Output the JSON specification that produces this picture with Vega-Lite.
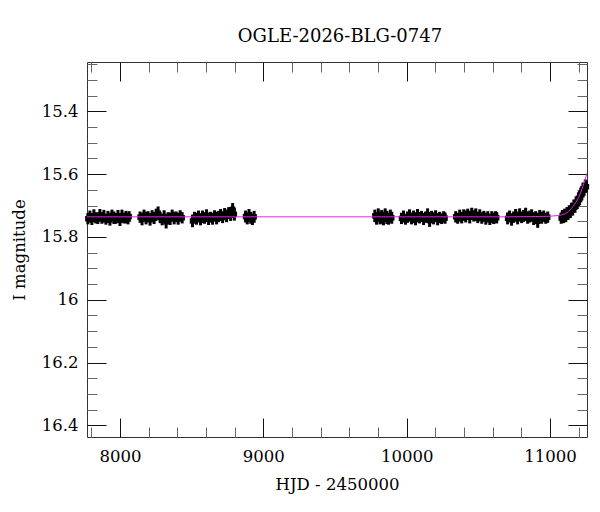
{
  "$schema": "https://vega.github.io/schema/vega-lite/v6.json",
  "width": 500,
  "height": 375,
  "autosize": "none",
  "padding": {"left": 87, "top": 62, "right": 13, "bottom": 75},
  "title": {
    "text": "OGLE-2026-BLG-0747",
    "font": "DejaVu Serif",
    "fontSize": 18,
    "fontWeight": "normal",
    "color": "#000",
    "anchor": "middle",
    "offset": 16,
    "dx": 3
  },
  "datasets": {
    "obs": [
      {"t": 7776, "mag": 15.742, "err": 0.018}, {"t": 7790, "mag": 15.735, "err": 0.019}, {"t": 7804, "mag": 15.745, "err": 0.017},
      {"t": 7818, "mag": 15.732, "err": 0.020}, {"t": 7832, "mag": 15.739, "err": 0.018}, {"t": 7846, "mag": 15.743, "err": 0.016},
      {"t": 7860, "mag": 15.730, "err": 0.019}, {"t": 7874, "mag": 15.740, "err": 0.018}, {"t": 7888, "mag": 15.734, "err": 0.020},
      {"t": 7902, "mag": 15.744, "err": 0.017}, {"t": 7916, "mag": 15.736, "err": 0.019}, {"t": 7930, "mag": 15.746, "err": 0.018},
      {"t": 7944, "mag": 15.731, "err": 0.018}, {"t": 7958, "mag": 15.739, "err": 0.020}, {"t": 7972, "mag": 15.741, "err": 0.017},
      {"t": 7986, "mag": 15.733, "err": 0.019}, {"t": 8000, "mag": 15.747, "err": 0.018}, {"t": 8014, "mag": 15.732, "err": 0.019},
      {"t": 8028, "mag": 15.740, "err": 0.017}, {"t": 8042, "mag": 15.737, "err": 0.020}, {"t": 8056, "mag": 15.742, "err": 0.018},
      {"t": 8064, "mag": 15.735, "err": 0.017},
      {"t": 8140, "mag": 15.737, "err": 0.018}, {"t": 8154, "mag": 15.744, "err": 0.019}, {"t": 8168, "mag": 15.731, "err": 0.018},
      {"t": 8182, "mag": 15.740, "err": 0.020}, {"t": 8196, "mag": 15.735, "err": 0.017}, {"t": 8210, "mag": 15.745, "err": 0.019},
      {"t": 8224, "mag": 15.733, "err": 0.018}, {"t": 8238, "mag": 15.741, "err": 0.018}, {"t": 8252, "mag": 15.729, "err": 0.019},
      {"t": 8266, "mag": 15.724, "err": 0.021}, {"t": 8280, "mag": 15.738, "err": 0.018}, {"t": 8294, "mag": 15.746, "err": 0.017},
      {"t": 8308, "mag": 15.734, "err": 0.019}, {"t": 8322, "mag": 15.752, "err": 0.021}, {"t": 8336, "mag": 15.739, "err": 0.018},
      {"t": 8350, "mag": 15.743, "err": 0.019}, {"t": 8364, "mag": 15.731, "err": 0.018}, {"t": 8378, "mag": 15.740, "err": 0.020},
      {"t": 8392, "mag": 15.736, "err": 0.017}, {"t": 8406, "mag": 15.742, "err": 0.019}, {"t": 8420, "mag": 15.733, "err": 0.018},
      {"t": 8434, "mag": 15.739, "err": 0.018},
      {"t": 8506, "mag": 15.749, "err": 0.020}, {"t": 8520, "mag": 15.738, "err": 0.018}, {"t": 8534, "mag": 15.742, "err": 0.019},
      {"t": 8548, "mag": 15.733, "err": 0.017}, {"t": 8562, "mag": 15.745, "err": 0.018}, {"t": 8576, "mag": 15.736, "err": 0.020},
      {"t": 8590, "mag": 15.740, "err": 0.018}, {"t": 8604, "mag": 15.731, "err": 0.019}, {"t": 8618, "mag": 15.744, "err": 0.018},
      {"t": 8632, "mag": 15.737, "err": 0.017}, {"t": 8646, "mag": 15.742, "err": 0.019}, {"t": 8660, "mag": 15.733, "err": 0.018},
      {"t": 8674, "mag": 15.740, "err": 0.020}, {"t": 8688, "mag": 15.735, "err": 0.018}, {"t": 8702, "mag": 15.730, "err": 0.019},
      {"t": 8716, "mag": 15.738, "err": 0.018}, {"t": 8730, "mag": 15.727, "err": 0.019}, {"t": 8744, "mag": 15.733, "err": 0.020},
      {"t": 8758, "mag": 15.724, "err": 0.019}, {"t": 8772, "mag": 15.731, "err": 0.018}, {"t": 8786, "mag": 15.712, "err": 0.020},
      {"t": 8798, "mag": 15.728, "err": 0.020},
      {"t": 8876, "mag": 15.735, "err": 0.019}, {"t": 8888, "mag": 15.742, "err": 0.018}, {"t": 8900, "mag": 15.731, "err": 0.020},
      {"t": 8912, "mag": 15.739, "err": 0.019}, {"t": 8924, "mag": 15.744, "err": 0.018}, {"t": 8936, "mag": 15.736, "err": 0.019},
      {"t": 9778, "mag": 15.733, "err": 0.020}, {"t": 9790, "mag": 15.742, "err": 0.019}, {"t": 9802, "mag": 15.730, "err": 0.021},
      {"t": 9814, "mag": 15.740, "err": 0.020}, {"t": 9826, "mag": 15.736, "err": 0.022}, {"t": 9838, "mag": 15.744, "err": 0.019},
      {"t": 9850, "mag": 15.729, "err": 0.020}, {"t": 9862, "mag": 15.738, "err": 0.021}, {"t": 9874, "mag": 15.742, "err": 0.019},
      {"t": 9886, "mag": 15.733, "err": 0.020}, {"t": 9896, "mag": 15.739, "err": 0.019},
      {"t": 9964, "mag": 15.741, "err": 0.018}, {"t": 9978, "mag": 15.735, "err": 0.019}, {"t": 9992, "mag": 15.744, "err": 0.017},
      {"t": 10006, "mag": 15.737, "err": 0.018}, {"t": 10020, "mag": 15.731, "err": 0.019}, {"t": 10034, "mag": 15.742, "err": 0.018},
      {"t": 10048, "mag": 15.736, "err": 0.020}, {"t": 10062, "mag": 15.745, "err": 0.018}, {"t": 10076, "mag": 15.730, "err": 0.019},
      {"t": 10090, "mag": 15.739, "err": 0.018}, {"t": 10104, "mag": 15.734, "err": 0.017}, {"t": 10118, "mag": 15.743, "err": 0.019},
      {"t": 10132, "mag": 15.737, "err": 0.018}, {"t": 10146, "mag": 15.729, "err": 0.020}, {"t": 10160, "mag": 15.748, "err": 0.020},
      {"t": 10174, "mag": 15.735, "err": 0.018}, {"t": 10188, "mag": 15.741, "err": 0.019}, {"t": 10202, "mag": 15.733, "err": 0.018},
      {"t": 10216, "mag": 15.744, "err": 0.019}, {"t": 10230, "mag": 15.738, "err": 0.018}, {"t": 10244, "mag": 15.742, "err": 0.017},
      {"t": 10258, "mag": 15.736, "err": 0.018}, {"t": 10268, "mag": 15.740, "err": 0.018},
      {"t": 10342, "mag": 15.736, "err": 0.018}, {"t": 10356, "mag": 15.741, "err": 0.017}, {"t": 10370, "mag": 15.732, "err": 0.019},
      {"t": 10384, "mag": 15.739, "err": 0.018}, {"t": 10398, "mag": 15.730, "err": 0.018}, {"t": 10412, "mag": 15.735, "err": 0.019},
      {"t": 10426, "mag": 15.728, "err": 0.018}, {"t": 10440, "mag": 15.737, "err": 0.020}, {"t": 10454, "mag": 15.726, "err": 0.019},
      {"t": 10468, "mag": 15.733, "err": 0.018}, {"t": 10482, "mag": 15.729, "err": 0.020}, {"t": 10496, "mag": 15.738, "err": 0.018},
      {"t": 10510, "mag": 15.731, "err": 0.019}, {"t": 10524, "mag": 15.740, "err": 0.018}, {"t": 10538, "mag": 15.734, "err": 0.017},
      {"t": 10552, "mag": 15.742, "err": 0.019}, {"t": 10566, "mag": 15.736, "err": 0.018}, {"t": 10580, "mag": 15.744, "err": 0.018},
      {"t": 10594, "mag": 15.737, "err": 0.019}, {"t": 10608, "mag": 15.741, "err": 0.018}, {"t": 10620, "mag": 15.735, "err": 0.017},
      {"t": 10628, "mag": 15.739, "err": 0.018},
      {"t": 10704, "mag": 15.741, "err": 0.019}, {"t": 10718, "mag": 15.734, "err": 0.018}, {"t": 10732, "mag": 15.745, "err": 0.019},
      {"t": 10746, "mag": 15.737, "err": 0.018}, {"t": 10760, "mag": 15.731, "err": 0.020}, {"t": 10774, "mag": 15.742, "err": 0.018},
      {"t": 10788, "mag": 15.728, "err": 0.019}, {"t": 10802, "mag": 15.738, "err": 0.018}, {"t": 10816, "mag": 15.733, "err": 0.019},
      {"t": 10830, "mag": 15.727, "err": 0.020}, {"t": 10844, "mag": 15.740, "err": 0.018}, {"t": 10858, "mag": 15.735, "err": 0.019},
      {"t": 10872, "mag": 15.730, "err": 0.018}, {"t": 10886, "mag": 15.743, "err": 0.019}, {"t": 10900, "mag": 15.736, "err": 0.018},
      {"t": 10914, "mag": 15.750, "err": 0.021}, {"t": 10928, "mag": 15.732, "err": 0.018}, {"t": 10942, "mag": 15.739, "err": 0.019},
      {"t": 10956, "mag": 15.734, "err": 0.018}, {"t": 10970, "mag": 15.741, "err": 0.017}, {"t": 10984, "mag": 15.737, "err": 0.018},
      {"t": 11078, "mag": 15.740, "err": 0.018}, {"t": 11086, "mag": 15.733, "err": 0.019}, {"t": 11094, "mag": 15.738, "err": 0.018},
      {"t": 11102, "mag": 15.729, "err": 0.019}, {"t": 11110, "mag": 15.735, "err": 0.018}, {"t": 11118, "mag": 15.724, "err": 0.019},
      {"t": 11126, "mag": 15.728, "err": 0.018}, {"t": 11134, "mag": 15.718, "err": 0.019}, {"t": 11142, "mag": 15.722, "err": 0.018},
      {"t": 11150, "mag": 15.710, "err": 0.019}, {"t": 11158, "mag": 15.714, "err": 0.018}, {"t": 11166, "mag": 15.700, "err": 0.019},
      {"t": 11174, "mag": 15.705, "err": 0.018}, {"t": 11182, "mag": 15.690, "err": 0.019}, {"t": 11190, "mag": 15.693, "err": 0.018},
      {"t": 11198, "mag": 15.677, "err": 0.019}, {"t": 11206, "mag": 15.681, "err": 0.018}, {"t": 11214, "mag": 15.662, "err": 0.019},
      {"t": 11222, "mag": 15.666, "err": 0.018}, {"t": 11230, "mag": 15.646, "err": 0.019}, {"t": 11238, "mag": 15.651, "err": 0.018},
      {"t": 11246, "mag": 15.636, "err": 0.019}, {"t": 11254, "mag": 15.640, "err": 0.018}
    ],
    "model": [
      {"t": 7770, "mag": 15.736}, {"t": 9000, "mag": 15.736}, {"t": 10000, "mag": 15.736}, {"t": 10700, "mag": 15.736},
      {"t": 10900, "mag": 15.735}, {"t": 11000, "mag": 15.734}, {"t": 11050, "mag": 15.732}, {"t": 11080, "mag": 15.730},
      {"t": 11100, "mag": 15.727}, {"t": 11120, "mag": 15.722}, {"t": 11140, "mag": 15.714}, {"t": 11160, "mag": 15.703},
      {"t": 11180, "mag": 15.690}, {"t": 11200, "mag": 15.674}, {"t": 11215, "mag": 15.657}, {"t": 11230, "mag": 15.638},
      {"t": 11245, "mag": 15.617}, {"t": 11258, "mag": 15.597}
    ]
  },
  "resolve": {"axis": {"x": "independent", "y": "independent"}},
  "layer": [
    {
      "data": {"name": "obs"},
      "mark": {"type": "errorbar", "color": "#000", "thickness": 3, "rule": {"strokeWidth": 3}},
      "encoding": {
        "x": {"field": "t", "type": "quantitative", "scale": {"domain": [7770, 11258], "nice": false, "zero": false}, "axis": null},
        "y": {"field": "mag", "type": "quantitative", "scale": {"domain": [15.243, 16.437], "reverse": true, "nice": false, "zero": false}, "axis": null},
        "yError": {"field": "err"}
      }
    },
    {
      "data": {"name": "obs"},
      "mark": {"type": "point", "shape": "square", "filled": true, "size": 30, "color": "#000", "opacity": 1},
      "encoding": {
        "x": {"field": "t", "type": "quantitative",
          "axis": {"orient": "bottom", "values": [8000, 9000, 10000, 11000], "format": "d", "ticks": false, "labelPadding": 11, "title": "HJD - 2450000", "titlePadding": 12}},
        "y": {"field": "mag", "type": "quantitative",
          "axis": {"orient": "left", "values": [15.4, 15.6, 15.8, 16, 16.2, 16.4], "format": "~g", "ticks": false, "labelPadding": 9, "title": "I magnitude", "titlePadding": 14}}
      }
    },
    {
      "data": {"name": "model"},
      "mark": {"type": "line", "color": "#e81ee8", "strokeWidth": 1, "interpolate": "monotone", "clip": true},
      "encoding": {
        "x": {"field": "t", "type": "quantitative",
          "axis": {"orient": "bottom", "values": [8000, 9000, 10000, 11000], "labels": false, "tickSize": -19, "tickColor": "#111", "title": null}},
        "y": {"field": "mag", "type": "quantitative",
          "axis": {"orient": "left", "values": [15.4, 15.6, 15.8, 16, 16.2, 16.4], "labels": false, "tickSize": -19, "tickColor": "#111", "title": null}}
      }
    },
    {
      "data": {"name": "model"},
      "mark": {"type": "line", "strokeOpacity": 0},
      "encoding": {
        "x": {"field": "t", "type": "quantitative",
          "axis": {"orient": "top", "values": [8000, 9000, 10000, 11000], "labels": false, "tickSize": -19, "tickColor": "#111", "title": null}},
        "y": {"field": "mag", "type": "quantitative",
          "axis": {"orient": "right", "values": [15.4, 15.6, 15.8, 16, 16.2, 16.4], "labels": false, "tickSize": -19, "tickColor": "#111", "title": null}}
      }
    },
    {
      "data": {"name": "model"},
      "mark": {"type": "line", "strokeOpacity": 0},
      "encoding": {
        "x": {"field": "t", "type": "quantitative",
          "axis": {"orient": "bottom", "values": [7800, 8200, 8400, 8600, 8800, 9200, 9400, 9600, 9800, 10200, 10400, 10600, 10800, 11200], "labels": false, "tickSize": -10, "tickColor": "#666", "title": null}},
        "y": {"field": "mag", "type": "quantitative",
          "axis": {"orient": "left", "values": [15.25, 15.3, 15.35, 15.45, 15.5, 15.55, 15.65, 15.7, 15.75, 15.85, 15.9, 15.95, 16.05, 16.1, 16.15, 16.25, 16.3, 16.35], "labels": false, "tickSize": -10, "tickColor": "#666", "title": null}}
      }
    },
    {
      "data": {"name": "model"},
      "mark": {"type": "line", "strokeOpacity": 0},
      "encoding": {
        "x": {"field": "t", "type": "quantitative",
          "axis": {"orient": "top", "values": [7800, 8200, 8400, 8600, 8800, 9200, 9400, 9600, 9800, 10200, 10400, 10600, 10800, 11200], "labels": false, "tickSize": -10, "tickColor": "#666", "title": null}},
        "y": {"field": "mag", "type": "quantitative",
          "axis": {"orient": "right", "values": [15.25, 15.3, 15.35, 15.45, 15.5, 15.55, 15.65, 15.7, 15.75, 15.85, 15.9, 15.95, 16.05, 16.1, 16.15, 16.25, 16.3, 16.35], "labels": false, "tickSize": -10, "tickColor": "#666", "title": null}}
      }
    }
  ],
  "config": {
    "view": {"stroke": "#333", "strokeWidth": 1},
    "axis": {
      "grid": false,
      "domain": false,
      "labelFont": "DejaVu Serif",
      "labelFontSize": 16.5,
      "labelColor": "#000",
      "titleFont": "DejaVu Serif",
      "titleFontSize": 16.5,
      "titleFontWeight": "normal",
      "titleColor": "#000"
    }
  }
}
